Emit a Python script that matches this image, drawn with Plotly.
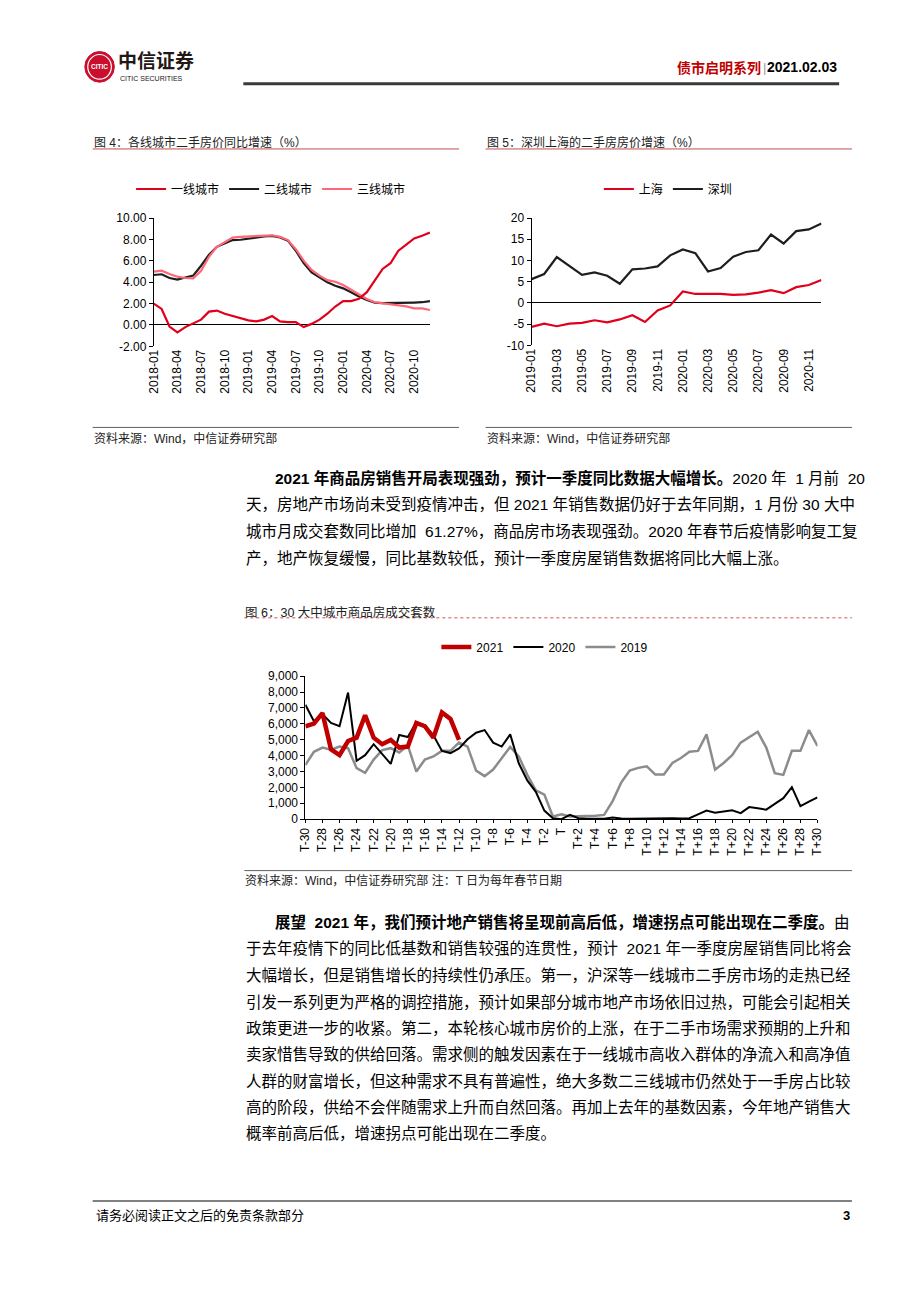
import plotly.graph_objects as go

# ---------------- data ----------------
months_a = [f"{y}-{m:02d}" for y in (2018, 2019, 2020) for m in range(1, 13)]
tier1 = [2.0, 1.5, -0.15, -0.7, -0.2, 0.15, 0.5, 1.25, 1.35, 1.05, 0.83, 0.65,
         0.43, 0.33, 0.5, 0.83, 0.33, 0.27, 0.27, -0.2, 0.1, 0.5, 1.05, 1.73,
         2.23, 2.23, 2.45, 3.07, 4.16, 5.25, 5.78, 6.96, 7.52, 8.1, 8.35, 8.66]
tier2 = [4.68, 4.75, 4.4, 4.25, 4.45, 4.62, 5.55, 6.58, 7.32, 7.65, 7.95, 7.98,
         8.1, 8.25, 8.3, 8.35, 8.2, 7.9, 6.95, 5.8, 4.93, 4.46, 4.0, 3.68,
         3.43, 3.06, 2.66, 2.35, 2.1, 2.04, 2.04, 2.04, 2.04, 2.1, 2.13, 2.23]
tier3 = [5.0, 5.08, 4.77, 4.52, 4.4, 4.37, 5.08, 6.39, 7.32, 7.78, 8.18, 8.25,
         8.28, 8.35, 8.4, 8.4, 8.25, 7.95, 7.1, 6.02, 5.15, 4.62, 4.2, 4.05,
         3.74, 3.3, 2.84, 2.43, 2.13, 2.04, 1.9, 1.87, 1.74, 1.55, 1.55, 1.4]

months_b = [f"{y}-{m:02d}" for y in (2019, 2020) for m in range(1, 13)]
shanghai = [-5.65, -4.9, -5.5, -4.9, -4.7, -4.1, -4.6, -3.9, -2.9, -4.5, -1.8, -0.6,
            2.7, 2.1, 2.1, 2.1, 1.9, 2.0, 2.4, 3.0, 2.3, 3.7, 4.2, 5.4]
shenzhen = [5.6, 6.8, 10.8, 8.7, 6.6, 7.2, 6.4, 4.5, 7.9, 8.1, 8.6, 11.2,
            12.6, 11.7, 7.4, 8.2, 10.9, 12.0, 12.4, 16.1, 14.0, 16.9, 17.3, 18.7]

t_days = [f"T-{k}" for k in range(30, 0, -1)] + ["T"] + [f"T+{k}" for k in range(1, 31)]
sales_2021 = [5850, 6020, 6680, 4400, 4030, 4920, 5130, 6540, 5130, 4720, 4990, 4510,
              4570, 6060, 5850, 5130, 6720, 6310, 4990]
sales_2020 = [7200, 6170, 6620, 6060, 5850, 7970, 3680, 4030, 4720, 4100, 3480, 5300,
              5170, 6100, 5900, 5280, 4300, 4160, 4450, 5030, 5440, 5610, 4820, 4570,
              5340, 3520, 2440, 1720, 540, 60, 0, 270, 60, 30, 30, 30,
              100, 40, 30, 40, 60, 70, 80, 60, 40, 60, 300, 540, 400, 480,
              560, 380, 760, 680, 600, 960, 1320, 2020, 820, 1100, 1370]
sales_2019 = [3410, 4240, 4510, 4370, 4570, 4470, 3210, 2920, 3750, 4350, 4470, 4200,
              4650, 3000, 3750, 3950, 4300, 4300, 4820, 4570, 3060, 2710, 3120, 3830,
              4550, 3950, 2790, 1820, 1550, 170, 310, 170, 170, 170, 210, 270,
              1140, 2300, 3060, 3230, 3330, 2810, 2810, 3540, 3850, 4240, 4300, 5340,
              3120, 3540, 4030, 4820, 5170, 5500, 4510, 2900, 2790, 4300, 4300, 5610, 4610]

tick4_y_vals = [-2, 0, 2, 4, 6, 8, 10]
tick4_y_text = ["-2.00", "0.00", "2.00", "4.00", "6.00", "8.00", "10.00"]
tick5_y_vals = [-10, -5, 0, 5, 10, 15, 20]
tick5_y_text = ["-10", "-5", "0", "5", "10", "15", "20"]
tick4_x = months_a[::3]
tick5_x = months_b[::2]
tick6_x = t_days[::2]

para1 = [
    "<b>2021 年商品房销售开局表现强劲，预计一季度同比数据大幅增长。</b>2020 年  1 月前  20",
    "天，房地产市场尚未受到疫情冲击，但 2021 年销售数据仍好于去年同期，1 月份 30 大中",
    "城市月成交套数同比增加  61.27%，商品房市场表现强劲。2020 年春节后疫情影响复工复",
    "产，地产恢复缓慢，同比基数较低，预计一季度房屋销售数据将同比大幅上涨。",
]
para2 = [
    "<b>展望  2021 年，我们预计地产销售将呈现前高后低，增速拐点可能出现在二季度。</b>由",
    "于去年疫情下的同比低基数和销售较强的连贯性，预计  2021 年一季度房屋销售同比将会",
    "大幅增长，但是销售增长的持续性仍承压。第一，沪深等一线城市二手房市场的走热已经",
    "引发一系列更为严格的调控措施，预计如果部分城市地产市场依旧过热，可能会引起相关",
    "政策更进一步的收紧。第二，本轮核心城市房价的上涨，在于二手市场需求预期的上升和",
    "卖家惜售导致的供给回落。需求侧的触发因素在于一线城市高收入群体的净流入和高净值",
    "人群的财富增长，但这种需求不具有普遍性，绝大多数二三线城市仍然处于一手房占比较",
    "高的阶段，供给不会伴随需求上升而自然回落。再加上去年的基数因素，今年地产销售大",
    "概率前高后低，增速拐点可能出现在二季度。",
]

# ---------------- helpers ----------------
W, H = 920, 1301
def px(x):
    return x / W
def py(y):
    return 1 - y / H

FONT = "Liberation Sans, Arial, Noto Sans CJK SC, sans-serif"
RED = "#E0001B"
BLACK = "#1E1E1E"
PINK = "#FF6677"

fig = go.Figure()

# chart 4
fig.add_trace(go.Scatter(x=months_a, y=tier2, name="二线城市", mode="lines",
                         line=dict(color=BLACK, width=2.2), xaxis="x", yaxis="y",
                         legend="legend", legendrank=2))
fig.add_trace(go.Scatter(x=months_a, y=tier3, name="三线城市", mode="lines",
                         line=dict(color=PINK, width=2.2), xaxis="x", yaxis="y",
                         legend="legend", legendrank=3))
fig.add_trace(go.Scatter(x=months_a, y=tier1, name="一线城市", mode="lines",
                         line=dict(color=RED, width=2.2), xaxis="x", yaxis="y",
                         legend="legend", legendrank=1))
# chart 5
fig.add_trace(go.Scatter(x=months_b, y=shanghai, name="上海", mode="lines",
                         line=dict(color=RED, width=2.2), xaxis="x2", yaxis="y2",
                         legend="legend2", legendrank=1))
fig.add_trace(go.Scatter(x=months_b, y=shenzhen, name="深圳", mode="lines",
                         line=dict(color=BLACK, width=2.2), xaxis="x2", yaxis="y2",
                         legend="legend2", legendrank=2))
# chart 6
fig.add_trace(go.Scatter(x=t_days, y=sales_2019, name="2019", mode="lines",
                         line=dict(color="#8C8C8C", width=2.5), xaxis="x3", yaxis="y3",
                         legend="legend3", legendrank=3))
fig.add_trace(go.Scatter(x=t_days, y=sales_2020, name="2020", mode="lines",
                         line=dict(color="#000000", width=2), xaxis="x3", yaxis="y3",
                         legend="legend3", legendrank=2))
fig.add_trace(go.Scatter(x=t_days[:len(sales_2021)], y=sales_2021, name="2021", mode="lines",
                         line=dict(color="#C00000", width=4.5), xaxis="x3", yaxis="y3",
                         legend="legend3", legendrank=1))

tickfont = dict(size=12, color="#000", family=FONT)
common_y = dict(showline=True, linecolor="#000", linewidth=1, ticks="outside", ticklen=4,
                tickcolor="#000", showgrid=False, tickfont=tickfont, fixedrange=True)
common_x = dict(type="category", tickangle=-90, showgrid=False, tickfont=tickfont,
                fixedrange=True, tickmode="array")

leg_common = dict(orientation="h", xanchor="left", yanchor="middle",
                  font=dict(size=12, color="#000", family=FONT),
                  bgcolor="rgba(0,0,0,0)", traceorder="normal", itemwidth=30)

fig.update_layout(
    width=W, height=H, margin=dict(l=0, r=0, t=0, b=0),
    paper_bgcolor="white", plot_bgcolor="white",
    font=dict(family=FONT, color="#000"),
    hovermode=False,
    xaxis=dict(domain=[px(149), px(429.5)], anchor="y", range=[0, 35],
               tickvals=tick4_x, showline=False, ticks="", zeroline=False, **common_x),
    yaxis=dict(domain=[py(343), py(213.5)], anchor="x", range=[-2, 10],
               tickmode="array", tickvals=tick4_y_vals, ticktext=tick4_y_text,
               zeroline=True, zerolinecolor="#000", zerolinewidth=1, **common_y),
    xaxis2=dict(domain=[px(532.7), px(827)], anchor="y2", range=[0, 23],
                tickvals=tick5_x, showline=False, ticks="", zeroline=False, **common_x),
    yaxis2=dict(domain=[py(342), py(213.3)], anchor="x2", range=[-10, 20],
                tickmode="array", tickvals=tick5_y_vals, ticktext=tick5_y_text,
                zeroline=True, zerolinecolor="#000", zerolinewidth=1, **common_y),
    xaxis3=dict(domain=[px(303), px(823)], anchor="y3", range=[0, 60],
                tickvals=tick6_x, showline=True, linecolor="#000", linewidth=1,
                ticks="outside", ticklen=3, tickcolor="#000", zeroline=False, **common_x),
    yaxis3=dict(domain=[py(821), py(676.5)], anchor="x3", range=[0, 9000],
                dtick=1000, tickformat=",d", zeroline=False, **common_y),
    legend=dict(x=px(126), y=py(184), **leg_common),
    legend2=dict(x=px(601), y=py(184), **leg_common),
    legend3=dict(x=px(436), y=py(647), **leg_common),
)

shapes = []
def hline(x0, x1, y, color, width, dash="solid"):
    shapes.append(dict(type="line", xref="paper", yref="paper", x0=px(x0), x1=px(x1),
                       y0=py(y), y1=py(y), line=dict(color=color, width=width, dash=dash)))

hline(240, 845, 77.5, "#3A3A3A", 3)
hline(87, 459, 143.5, "#C0504D", 1)
hline(486, 858, 143.5, "#C0504D", 1)
hline(87, 459, 425, "#606060", 1)
hline(486, 858, 425, "#606060", 1)
hline(241, 858, 617.5, "#E08A8A", 1.5, "dot")
hline(241, 858, 873, "#606060", 1)
hline(87, 858, 1207, "#000000", 1)
# logo
shapes.append(dict(type="circle", xref="paper", yref="paper", x0=px(79), x1=px(109),
                   y0=py(76), y1=py(45), fillcolor="#C8102E", line=dict(color="#C8102E", width=1)))
shapes.append(dict(type="circle", xref="paper", yref="paper", x0=px(82), x1=px(106),
                   y0=py(73), y1=py(48), fillcolor="rgba(0,0,0,0)", line=dict(color="white", width=1.2)))

annotations = []
def txt(x, y, text, size=12, color="#000", anchor="left", family=FONT, bold=False):
    if bold:
        text = f"<b>{text}</b>"
    annotations.append(dict(xref="paper", yref="paper", x=px(x), y=py(y), text=text,
                            showarrow=False, xanchor=anchor, yanchor="middle",
                            font=dict(size=size, color=color, family=family)))

# header
txt(94, 60.5, "CITIC", 6.5, "white", "center", bold=True)
txt(111, 53.5, "中信证券", 19, "#231815", bold=True, family="Noto Sans CJK SC")
txt(113, 72, "CITIC SECURITIES", 7, "#231815")
txt(678, 61, "债市启明系列", 14, "#C00000", bold=True, family="Noto Sans CJK SC")
txt(769, 61, "|", 13, "#999999", "center")
txt(845, 61, "2021.02.03", 14, "#000", "right", bold=True)

# chart titles
txt(86, 137, "图 4：各线城市二手房价同比增速（%）", 12, "#222")
txt(485, 137, "图 5：深圳上海的二手房房价增速（%）", 12, "#222")
txt(240, 612, "图 6：30 大中城市商品房成交套数", 12.5, "#222")
# sources
txt(86, 436, "资料来源：Wind，中信证券研究部", 12, "#222")
txt(485, 436, "资料来源：Wind，中信证券研究部", 12, "#222")
txt(240, 883, "资料来源：Wind，中信证券研究部 注：T 日为每年春节日期", 12, "#222")

# paragraphs
p1_y = [476, 503, 530, 557]
for i, line in enumerate(para1):
    txt(270 if i == 0 else 241, p1_y[i], line, 15.5, "#000")
p2_y = [925, 952, 979, 1006, 1033, 1059, 1086, 1112, 1139]
for i, line in enumerate(para2):
    txt(270 if i == 0 else 241, p2_y[i], line, 15.5, "#000")

# footer
txt(88, 1222, "请务必阅读正文之后的免责条款部分", 13, "#000")
txt(858, 1222, "3", 13, "#000", "right", bold=True)

fig.update_layout(shapes=shapes, annotations=annotations)
fig.write_html("out.html")
